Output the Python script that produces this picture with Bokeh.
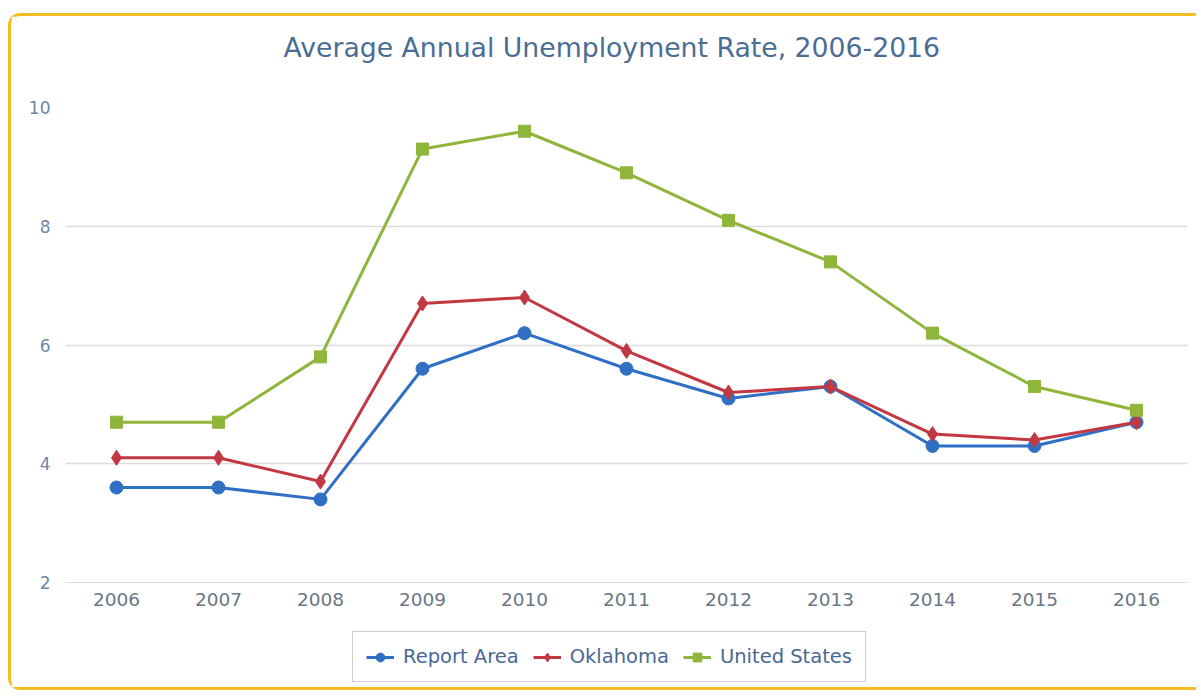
from bokeh.plotting import figure
from bokeh.models import (ColumnDataSource, Legend, LegendItem, FixedTicker,
                          Range1d, FactorRange, Column, Title)
from bokeh.embed import file_html
from bokeh.resources import INLINE

years = ["2006", "2007", "2008", "2009", "2010", "2011", "2012", "2013", "2014", "2015", "2016"]
report_area = [3.6, 3.6, 3.4, 5.6, 6.2, 5.6, 5.1, 5.3, 4.3, 4.3, 4.7]
oklahoma = [4.1, 4.1, 3.7, 6.7, 6.8, 5.9, 5.2, 5.3, 4.5, 4.4, 4.7]
united_states = [4.7, 4.7, 5.8, 9.3, 9.6, 8.9, 8.1, 7.4, 6.2, 5.3, 4.9]
y_ticks = [2, 4, 6, 8, 10]
title_text = "Average Annual Unemployment Rate, 2006-2016"

series = [
    ("Report Area", report_area, "#2f6fc4", "circle", 13),
    ("Oklahoma", oklahoma, "#c23842", "diamond", 15),
    ("United States", united_states, "#8fb53a", "square", 12),
]

# ---- main chart ----
p = figure(frame_width=1122, frame_height=475, title=None,
           x_range=FactorRange(*years), y_range=Range1d(2, 10),
           output_backend="svg", toolbar_location=None,
           min_border_left=54, min_border_right=9, min_border_top=91, min_border_bottom=0)
p.outline_line_color = None
p.background_fill_color = "white"
p.border_fill_color = "white"

# spacer between frame and title, then the title itself (stacks outward)
p.add_layout(Title(text=" ", text_font_size="2px", standoff=36), "above")
p.add_layout(Title(text=title_text, align="left", offset=218, standoff=10,
                   text_font="DejaVu Sans", text_font_size="26.7px",
                   text_font_style="normal", text_color="#4a6d94"), "above")

for name, vals, color, marker, size in series:
    src = ColumnDataSource(dict(x=years, y=vals))
    p.line("x", "y", source=src, line_color=color, line_width=3)
    p.scatter("x", "y", source=src, marker=marker, size=size,
              fill_color=color, line_color=color)

p.yaxis.ticker = FixedTicker(ticks=y_ticks)
p.yaxis.axis_line_color = None
p.yaxis.major_tick_line_color = None
p.yaxis.major_tick_out = 0
p.yaxis.minor_tick_line_color = None
p.yaxis.major_label_standoff = 15
p.yaxis.major_label_text_font = "DejaVu Sans"
p.yaxis.major_label_text_font_size = "17px"
p.yaxis.major_label_text_color = "#6d87a6"

p.xaxis.axis_line_color = "#d8dde6"
p.xaxis.major_tick_line_color = None
p.xaxis.major_tick_out = 0
p.xaxis.minor_tick_line_color = None
p.xaxis.major_label_standoff = 10
p.xaxis.major_label_text_font = "DejaVu Sans"
p.xaxis.major_label_text_font_size = "18.5px"
p.xaxis.major_label_text_color = "#6b7785"

p.xgrid.grid_line_color = None
p.ygrid.grid_line_color = "#dcdcdc"
p.ygrid.grid_line_width = 1.5

# ---- legend strip (same series, drawn outside its visible range) ----
lg = figure(width=1185, height=79, x_range=FactorRange(*years), y_range=Range1d(100, 101),
            output_backend="svg", toolbar_location=None,
            x_axis_location=None, y_axis_location=None,
            min_border=0, min_border_left=0, min_border_right=0,
            min_border_top=0, min_border_bottom=0)
lg.outline_line_color = None
lg.xgrid.grid_line_color = None
lg.ygrid.grid_line_color = None
lg.border_fill_color = "white"

items = []
for name, vals, color, marker, size in series:
    src = ColumnDataSource(dict(x=years, y=vals))
    r1 = lg.line("x", "y", source=src, line_color=color, line_width=3)
    r2 = lg.scatter("x", "y", source=src, marker=marker, size=size,
                    fill_color=color, line_color=color)
    items.append(LegendItem(label=name, renderers=[r1, r2]))

legend = Legend(items=items, orientation="horizontal", location=(287, 5))
legend.label_text_font = "DejaVu Sans"
legend.label_text_font_size = "19.5px"
legend.label_text_color = "#4a6894"
legend.border_line_color = "#9a9a9a"
legend.border_line_width = 1.5
legend.background_fill_color = "white"
legend.background_fill_alpha = 1
legend.glyph_width = 28
legend.glyph_height = 22
legend.label_standoff = 9
legend.spacing = 14
legend.padding = 13
legend.margin = 0
lg.add_layout(legend, "center")

yb = "3px solid #f2bd24"
page = Column(children=[p, lg], margin=(13, 0, 0, 8), spacing=0,
              styles={"border-left": yb, "border-top": yb, "border-bottom": yb,
                      "border-top-left-radius": "12px",
                      "border-bottom-left-radius": "12px"})

open("out.html", "w").write(file_html(page, INLINE))
